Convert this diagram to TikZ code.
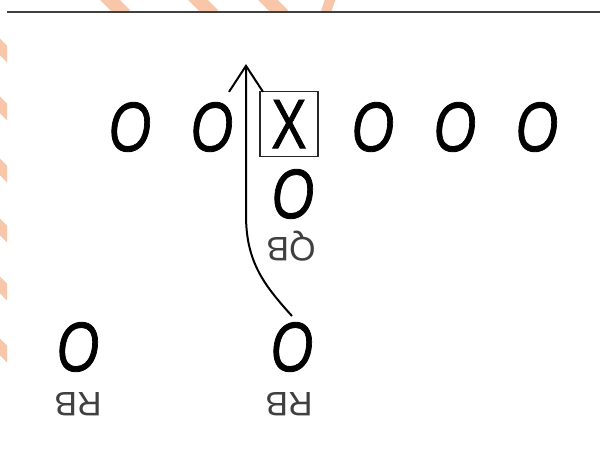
\documentclass[tikz,border=0pt]{standalone}
\usepackage{fontspec}
\setmainfont{Liberation Sans}
\newfontfamily\heavyfont{Liberation Sans}[FakeBold=1.2]
\usetikzlibrary{arrows.meta}
\definecolor{peach}{RGB}{248,198,168}
\tikzset{
  player/.style={inner sep=0pt,font=\heavyfont\fontsize{70}{70}\selectfont},
  role/.style={rotate=180,inner sep=0pt,text=black!75,font=\fontsize{34}{34}\selectfont},
}
\newcommand{\offm}{\scalebox{0.78}[1]{\itshape O}}

\begin{document}
\begin{tikzpicture}[x=1pt,y=-1pt]
\useasboundingbox (0,0) rectangle (600,464);
% marks in the margin
\begin{scope}
\clip (0,0) rectangle (7,464) (7,0) rectangle (600,12);
\foreach \y in {52,110,172,232,290,352}
  \draw[peach,line width=12pt] (-10,\y-15) -- (20,\y+15);
\foreach \x in {110,198,268}
  \draw[peach,line width=14pt] (\x-15,-15) -- (\x+15,15);
\draw[peach,line width=10pt] (335,-15) -- (325,15);
\end{scope}
\draw[black!75,line width=2pt] (7,12) -- (600,12);

% line
\node[player] (lt) at (130,127) {\offm};
\node[player] (lg) at (212,127) {\offm};
\node[player,draw,line width=1.8pt,draw=black!85,minimum width=58pt,minimum height=65pt] (c) at (289,124) {\scalebox{0.75}[1]{X}};
\node[player] (rg) at (373,127) {\offm};
\node[player] (rt) at (455,127) {\offm};
\node[player] (te) at (537,127) {\offm};

% backs
\node[player] (qb) at (293,194) {\offm};
\node[role] (qbl) at (291,246) {QB};
\node[player] (rbl) at (78,347) {\offm};
\node[role] (rbll) at (78,404) {RB};
\node[player] (rbr) at (292,347) {\offm};
\node[role] (rbrl) at (289,404) {RB};

\coordinate (tip) at (246,64);
\draw[line width=2pt,-{Straight Barb[length=26pt,width=34pt]}] ([yshift=6pt]rbr.north) .. controls (264,285) and (246,262) .. (246,215) -- (tip);
\end{tikzpicture}
\end{document}
